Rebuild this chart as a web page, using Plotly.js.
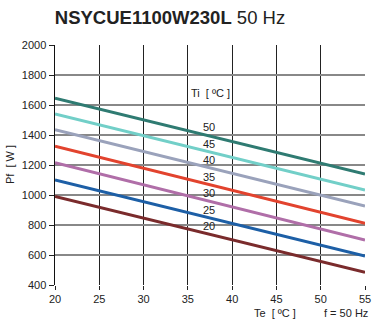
<!DOCTYPE html>
<html><head><meta charset="utf-8">
<script src="https://cdn.plot.ly/plotly-3.0.1.min.js"></script>
<style>body{margin:0;background:#fff}#c{width:372px;height:327px}</style>
</head><body><div id="c"></div>
<script>
const te = [20, 55];
const tiLabels = ['50','45','40','35','30','25','20'];
const pf50 = [1645, 1140];
const pf45 = [1540, 1033];
const pf40 = [1435, 927];
const pf35 = [1325, 811];
const pf30 = [1215, 700];
const pf25 = [1100, 593];
const pf20 = [990, 484];
const labelX = [37.4, 37.4, 37.4, 37.4, 37.4, 37.4, 37.4];
const labelY = [1447, 1333, 1227, 1113, 1007, 893, 787];
const colors = ['#2f7b72','#72cfc8','#9aa2bb','#e2432e','#b06ea8','#1d5fa6','#7a2b2c'];
const series = [pf50, pf45, pf40, pf35, pf30, pf25, pf20];

const traces = series.map((s, i) => ({
  x: te, y: s, mode: 'lines', type: 'scatter',
  line: {color: colors[i], width: 3}, hoverinfo: 'skip', showlegend: false
}));
traces.push({
  x: labelX, y: labelY, mode: 'text', type: 'scatter', text: tiLabels,
  textposition: 'middle center', textfont: {family: 'Liberation Sans, Arial', size: 11, color: '#222'},
  showlegend: false, hoverinfo: 'skip'
});

const font = {family: 'Liberation Sans, Arial', size: 11, color: '#222'};
const layout = {
  width: 372, height: 327,
  margin: {l: 55, r: 7, t: 45, b: 42},
  paper_bgcolor: '#fff', plot_bgcolor: '#fff',
  font: font,
  showlegend: false,
  title: {text: '<b>NSYCUE1100W230L</b> 50 Hz', font: {family: 'Liberation Sans, Arial', size: 18.5, color: '#222'}, x: 0.457, xanchor: 'center', y: 0.945, yanchor: 'middle'},
  xaxis: {range: [20, 55], tick0: 20, dtick: 5, showgrid: true, gridcolor: '#222', gridwidth: 1,
    zeroline: false, showline: false, ticks: 'outside', ticklen: 4, tickcolor: '#222', tickfont: font, fixedrange: true},
  yaxis: {range: [400, 2000], tick0: 400, dtick: 200, showgrid: true, gridcolor: '#888', gridwidth: 1.5,
    zeroline: false, showline: true, linecolor: '#111', linewidth: 1.5, ticks: 'outside', ticklen: 5, tickcolor: '#222', tickfont: font, fixedrange: true},
  annotations: [
    {x: 37.6, y: 1680, xref: 'x', yref: 'y', text: 'Ti  [ ºC ]', showarrow: false, font: font},
    {x: -0.145, y: 0.5, xref: 'paper', yref: 'paper', xanchor: 'center', yanchor: 'middle', text: 'Pf  [ W ]', textangle: -90, showarrow: false, font: font},
    {x: 44.8, y: 0, xref: 'x', yref: 'paper', yanchor: 'middle', yshift: -28, text: 'Te  [ ºC ]', showarrow: false, font: font},
    {x: 52.8, y: 0, xref: 'x', yref: 'paper', yanchor: 'middle', yshift: -28, text: 'f = 50 Hz', showarrow: false, font: font}
  ]
};
Plotly.newPlot('c', traces, layout, {displayModeBar: false, staticPlot: true});
</script></body></html>
